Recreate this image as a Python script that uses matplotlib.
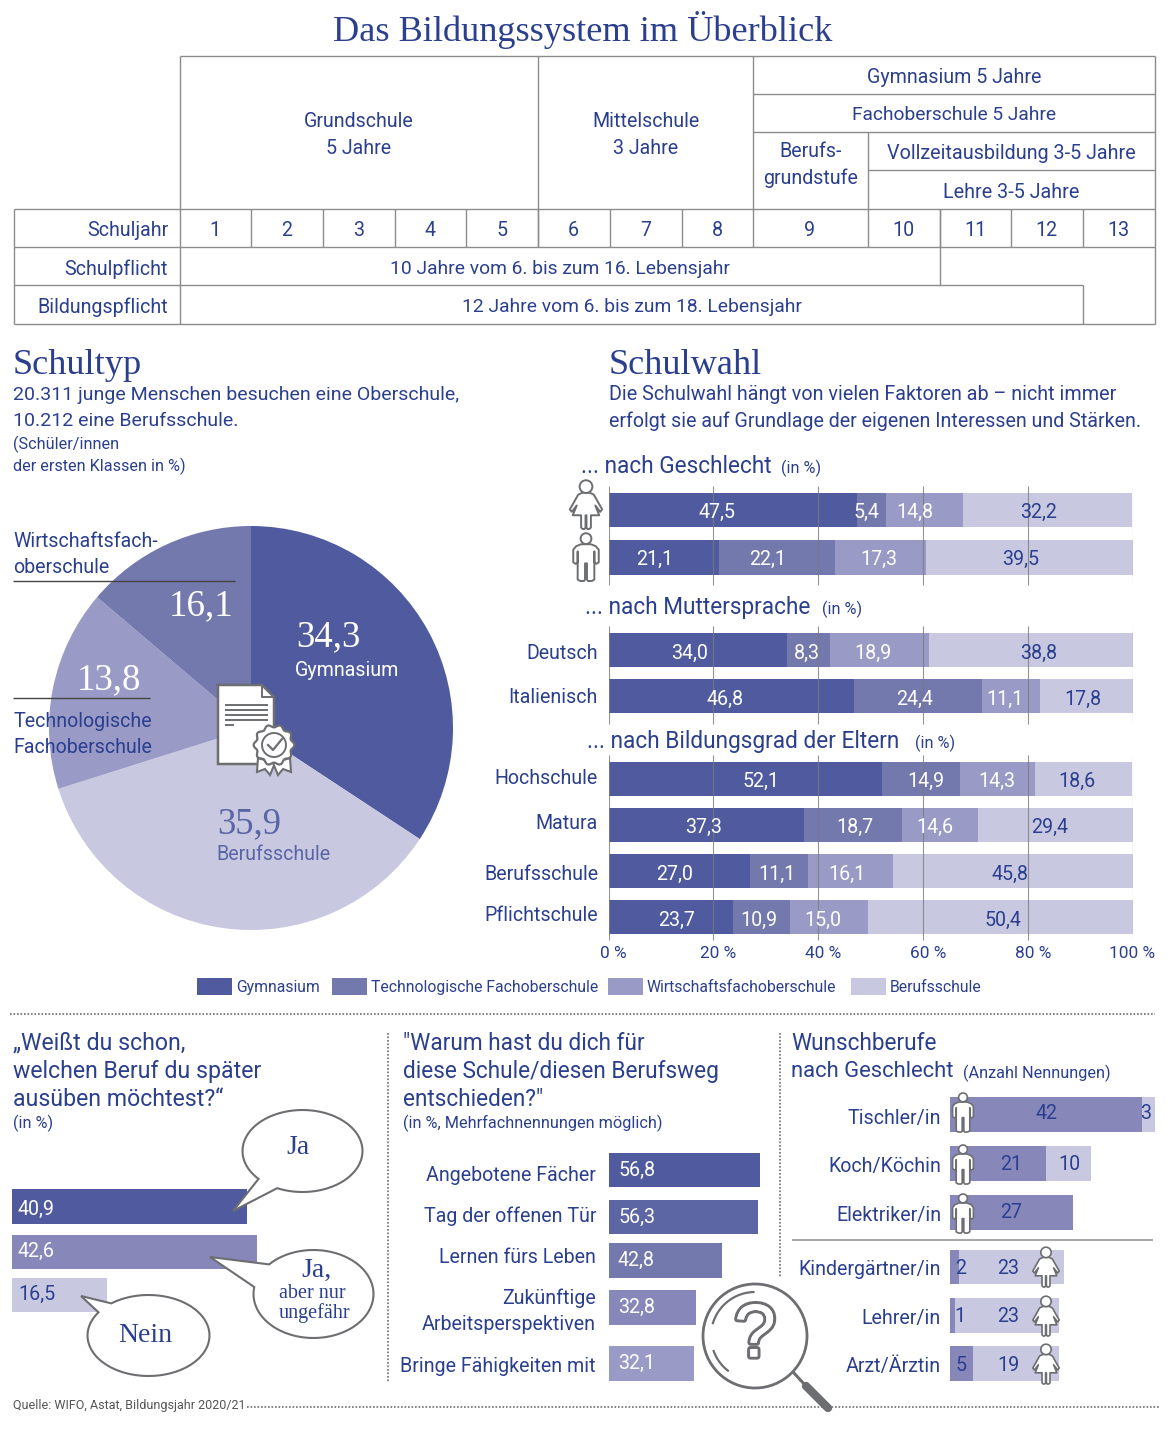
import numpy as np
import matplotlib
matplotlib.use("Agg")
import matplotlib.pyplot as plt
from matplotlib.patches import Circle, Polygon, Rectangle
from matplotlib.transforms import ScaledTranslation
import matplotlib.patheffects as pe

W, H = 1170, 1430
SANS = ["Roboto", "DejaVu Sans"]
SERIF = ["Liberation Serif", "DejaVu Serif"]
NAVY = "#2b3f8f"
GREY = "#6d6e71"
LINE = "#8c8c8c"
C_GYM, C_TECH, C_WIRT, C_BERUF = "#4f5b9e", "#7378ad", "#9a9ac6", "#c8c8e0"
C_MID = "#8787b9"

# ---------------------------------------------------------------------------
# Data
# ---------------------------------------------------------------------------
legend_labels = ["Gymnasium", "Technologische Fachoberschule", "Wirtschaftsfachoberschule", "Berufsschule"]
# wedge sizes as drawn in the picture, clockwise from 12 o'clock
pie_values = [34.3, 35.9, 16.1, 13.8]
pie_texts = ["34,3", "35,9", "13,8", "16,1"]

stack_rows = ["Weiblich", "Männlich", "Deutsch", "Italienisch", "Hochschule", "Matura", "Berufsschule", "Pflichtschule"]
stack_gym = [47.5, 21.1, 34.0, 46.8, 52.1, 37.3, 27.0, 23.7]
stack_tech = [5.4, 22.1, 8.3, 24.4, 14.9, 18.7, 11.1, 10.9]
stack_wirt = [14.8, 17.3, 18.9, 11.1, 14.3, 14.6, 16.1, 15.0]
stack_beruf = [32.2, 39.5, 38.8, 17.8, 18.6, 29.4, 45.8, 50.4]
stack_ticks = [0, 20, 40, 60, 80, 100]

know_values = [40.9, 42.6, 16.5]

why_labels = ["Angebotene Fächer", "Tag der offenen Tür", "Lernen fürs Leben",
              "Zukünftige\nArbeitsperspektiven", "Bringe Fähigkeiten mit"]
why_values = [56.8, 56.3, 42.8, 32.8, 32.1]

job_labels = ["Tischler/in", "Koch/Köchin", "Elektriker/in", "Kindergärtner/in", "Lehrer/in", "Arzt/Ärztin"]
job_male = [42, 21, 27, 2, 1, 5]
job_female = [3, 10, 0, 23, 23, 19]

school_years = list(range(1, 14))

# ---------------------------------------------------------------------------
# Layout (pixels of the finished picture)
# ---------------------------------------------------------------------------
stack_y = [510, 557.5, 650, 696, 779, 825, 871, 917]
stack_label_x = [
    [717, 866, 915, 1039], [655, 768, 879, 1021], [690, 807, 873, 1039], [725, 915, 1005, 1083],
    [761, 926, 997, 1077], [704, 855, 935, 1050], [675, 777, 847, 1010], [677, 759, 823, 1003],
]
stack_label_yoff = [0, 0, 1, 1, 0, 0, 1, 1]
stack_row_label_y = [None, None, 651, 695, 776, 821, 872, 913]
grid_spans = [(486, 585), (626, 724), (755, 940)]

know_y = [1206.5, 1252, 1295]
know_text_y = [1207, 1249, 1292]
why_y = [1170, 1217, 1260.5, 1307.5, 1363.5]
why_label_y = [1173, 1214, 1255, 1309, 1364]
job_y = [1114.5, 1163.5, 1212.5, 1267, 1315.5, 1363.5]
job_label_y = [1116, 1164, 1213, 1267, 1316, 1364]
job_text_x = [(1046, 1146), (1011, 1069), (1011, None), (961, 1008), (960, 1008), (961, 1008)]
job_text_y = [1111, 1162, 1210, 1266, 1314, 1363]

BODY = 14.1
HEAD = 16.3
SMALL = 11.7

fig = plt.figure(figsize=(W / 100, H / 100), dpi=100, facecolor="white")


def px_axes(x0, y0, x1, y1, zorder=1):
    ax = fig.add_axes([x0 / W, 1 - y1 / H, (x1 - x0) / W, (y1 - y0) / H], zorder=zorder)
    ax.patch.set_alpha(0)
    return ax


back = px_axes(0, 0, W, H, zorder=0)
top = px_axes(0, 0, W, H, zorder=5)
back.set_xlim(0.5, W + 0.5)
back.set_ylim(H + 0.7, 0.7)
top.set_xlim(0, W)
top.set_ylim(H, 0)
back.axis("off")
top.axis("off")


def txt(x, y, s, size=BODY, color=NAVY, ha="left", va="center", family=None, **kw):
    off = 2 if family is SERIF else 2.5
    return top.text(x, y + off, s, fontsize=size, color=color, ha=ha, va=va, family=family or SANS, **kw)


def rule(x0, y0, x1, y1, ax=None, color=LINE, lw=1.0, **kw):
    (ax or back).plot([x0, x1], [y0, y1], color=color, lw=lw, solid_capstyle="butt", **kw)


def dotted(x0, y0, x1, y1):
    top.plot([x0, x1], [y0, y1], color=GREY, lw=1.2, ls=(0, (1, 1.1)), zorder=1)


def comma(v):
    return f"{v:.1f}".replace(".", ",")


# ---------------------------------------------------------------------------
# Title and overview table
# ---------------------------------------------------------------------------
txt(583, 28, "Das Bildungssystem im Überblick", size=26.1, ha="center", family=SERIF)

col_x = [180, 251, 323, 395, 466, 538, 610, 682, 753, 868, 940, 1011, 1083, 1155]
for y, x0, x1 in [(57, 180, 1155), (95, 753, 1155), (133, 753, 1155), (171, 868, 1155), (210, 14, 1155),
                  (248, 14, 1155), (286, 14, 1083), (325, 14, 1155)]:
    rule(x0, y, x1, y)
for x, y0, y1 in [(14, 210, 325), (180, 57, 325), (538, 57, 248), (753, 57, 248), (868, 133, 248),
                  (940, 210, 286), (1083, 210, 248), (1083, 286, 325), (1155, 57, 325)]:
    rule(x, y0, x, y1)
for x in col_x[1:8] + col_x[10:12]:
    rule(x, 210, x, 248)

txt(359, 119, "Grundschule", ha="center")
txt(359, 146, "5 Jahre", ha="center")
txt(646, 119, "Mittelschule", ha="center")
txt(646, 146, "3 Jahre", ha="center")
txt(954, 75, "Gymnasium 5 Jahre", ha="center", size=14.1)
txt(954, 113, "Fachoberschule 5 Jahre", ha="center", size=13.8)
txt(811, 149, "Berufs-", ha="center")
txt(811, 176, "grundstufe", ha="center")
txt(1011, 151, "Vollzeitausbildung 3-5 Jahre", ha="center", size=14.2)
txt(1011, 190, "Lehre 3-5 Jahre", ha="center", size=14.2)
txt(168, 228, "Schuljahr", ha="right")
txt(168, 267, "Schulpflicht", ha="right")
txt(168, 305, "Bildungspflicht", ha="right")
for i, year in enumerate(school_years):
    txt((col_x[i] + col_x[i + 1]) / 2 - 0.5, 228, str(year), ha="center")
txt(560, 267, "10 Jahre vom 6. bis zum 16. Lebensjahr", ha="center", size=13.9)
txt(632, 305, "12 Jahre vom 6. bis zum 18. Lebensjahr", ha="center", size=13.9)

# ---------------------------------------------------------------------------
# Schultyp pie
# ---------------------------------------------------------------------------
txt(13, 363, "Schultyp", size=26.1, family=SERIF)
txt(13, 392, "20.311 junge Menschen besuchen eine Oberschule,", size=14.0)
txt(13, 419, "10.212 eine Berufsschule.", size=14.0)
txt(13, 442, "(Schüler/innen", size=SMALL)
txt(13, 464, "der ersten Klassen in %)", size=SMALL)

pie_ax = px_axes(49, 526, 453, 930)
pie_ax.pie(pie_values, colors=[C_GYM, C_BERUF, C_WIRT, C_TECH], startangle=90, counterclock=False,
           radius=1.0, center=(0, 0))
pie_ax.set_xlim(-1, 1)
pie_ax.set_ylim(-1, 1)

txt(328, 635, pie_texts[0], size=26.5, color="white", ha="center", family=SERIF)
txt(347, 668, legend_labels[0], color="white", ha="center")
txt(249, 822, pie_texts[1], size=26.5, color="#5a65a5", ha="center", family=SERIF)
txt(273, 852, legend_labels[3], color="#5a65a5", ha="center")
txt(109, 678, pie_texts[2], size=26.5, color="white", ha="center", family=SERIF)
txt(201, 604, pie_texts[3], size=26.5, color="white", ha="center", family=SERIF)
txt(13, 539, "Wirtschaftsfach-")
txt(13, 565, "oberschule")
rule(13, 581, 235, 581, ax=top, color="#444444")
txt(13, 719, "Technologische")
txt(13, 745, "Fachoberschule")
rule(13, 698, 150, 698, ax=top, color="#444444")

# certificate icon
top.add_patch(Polygon([(218, 685), (262, 685), (274, 697), (274, 764), (218, 764)], closed=True,
                      fc="white", ec=GREY, lw=1.8, joinstyle="miter"))
top.plot([262, 262, 274], [685, 697, 697], color=GREY, lw=1.4)
for y, x1 in [(705, 268), (710, 268), (715, 268), (720, 268), (725, 234)]:
    rule(225, y, x1, y, ax=top, color=GREY, lw=1.4)
top.add_patch(Polygon([(258, 758), (257, 772), (265, 769), (270, 775), (275, 763)], closed=True, fc="white", ec=GREY, lw=1.5))
top.add_patch(Polygon([(290, 758), (291, 772), (283, 769), (278, 775), (273, 763)], closed=True, fc="white", ec=GREY, lw=1.5))
ang = np.linspace(0, 2 * np.pi, 121)
seal_r = 19 + 1.4 * np.cos(10 * ang)
top.add_patch(Polygon(np.c_[274 + seal_r * np.cos(ang), 745 + seal_r * np.sin(ang)], closed=True, fc="white", ec=GREY, lw=1.6))
top.add_patch(Circle((274, 745), 12, fc="white", ec=GREY, lw=1.4))
top.plot([268, 273, 282], [745, 750, 739], color=GREY, lw=1.6)

# ---------------------------------------------------------------------------
# Schulwahl stacked bars
# ---------------------------------------------------------------------------
txt(609, 363, "Schulwahl", size=26.1, family=SERIF)
txt(609, 392, "Die Schulwahl hängt von vielen Faktoren ab – nicht immer", size=14.2)
txt(609, 419, "erfolgt sie auf Grundlage der eigenen Interessen und Stärken.", size=14.15)

txt(581, 464, "... nach Geschlecht", size=HEAD)
txt(781, 466, "(in %)", size=SMALL)
txt(585, 605, "... nach Muttersprache", size=HEAD)
txt(822, 607, "(in %)", size=SMALL)
txt(587, 739, "... nach Bildungsgrad der Eltern", size=HEAD)
txt(915, 741, "(in %)", size=SMALL)

stack_ax = px_axes(608.5, 480, 1132.5, 945)
stack_ax.set_xlim(0, 100)
stack_ax.set_ylim(945, 480)
left = np.zeros(len(stack_rows))
for vals, col in zip([stack_gym, stack_tech, stack_wirt, stack_beruf], [C_GYM, C_TECH, C_WIRT, C_BERUF]):
    stack_ax.barh(stack_y, vals, left=left, height=34.5, color=col, zorder=2)
    left = left + np.array(vals)
for y0, y1 in grid_spans:
    stack_ax.vlines(stack_ticks, y0, y1, color="#7a7a7a", lw=0.8, alpha=0.8, zorder=3)
for s in stack_ax.spines.values():
    s.set_visible(False)
stack_ax.set_yticks([])
stack_ax.set_xticks(stack_ticks, [f"{t} %" for t in stack_ticks], color=NAVY, fontsize=12.4, family=SANS)
stack_ax.tick_params(axis="x", length=0, pad=0.5)
shift = ScaledTranslation(5 / 100, 0, fig.dpi_scale_trans)
for t, lab in zip(stack_ticks, stack_ax.get_xticklabels()):
    if t < 100:
        lab.set_transform(lab.get_transform() + shift)

for r, name in enumerate(stack_rows):
    vals = [stack_gym[r], stack_tech[r], stack_wirt[r], stack_beruf[r]]
    for k, v in enumerate(vals):
        txt(stack_label_x[r][k], stack_y[r] + stack_label_yoff[r] - 0.5, comma(v),
            color="white" if k < 3 else NAVY, ha="center")
    if stack_row_label_y[r] is not None:
        txt(598, stack_row_label_y[r], name, ha="right")

# legend
for x, lab, col in [(197, legend_labels[0], C_GYM), (332, legend_labels[1], C_TECH),
                    (608, legend_labels[2], C_WIRT), (851, legend_labels[3], C_BERUF)]:
    top.add_patch(Rectangle((x, 978), 35, 17, fc=col, ec="none"))
    txt(x + 39, 985, lab, size=11.3)


# ---------------------------------------------------------------------------
# People icons
# ---------------------------------------------------------------------------
MALE = [(-.10, .25), (.10, .25), (.20, .29), (.26, .36), (.26, .62), (.21, .65), (.17, .62), (.17, .40), (.17, .97),
        (.12, 1.0), (.04, 1.0), (.02, .97), (.02, .64), (-.02, .64), (-.02, .97), (-.04, 1.0), (-.12, 1.0),
        (-.17, .97), (-.17, .40), (-.17, .62), (-.21, .65), (-.26, .62), (-.26, .36), (-.20, .29)]
FEMALE = [(-.08, .26), (.08, .26), (.16, .30), (.25, .46), (.33, .60), (.29, .65), (.19, .52), (.27, .72), (.10, .72),
          (.10, .97), (.07, 1.0), (.03, 1.0), (.01, .97), (.01, .72), (-.01, .72), (-.01, .97), (-.03, 1.0),
          (-.07, 1.0), (-.10, .97), (-.10, .72), (-.27, .72), (-.19, .52), (-.29, .65), (-.33, .60), (-.25, .46), (-.16, .30)]


def person(cx, y0, y1, female=False, lw=1.4):
    h = y1 - y0
    pts = [(cx + px * h, y0 + py * h) for px, py in (FEMALE if female else MALE)]
    top.add_patch(Polygon(pts, closed=True, fc="white", ec=GREY, lw=lw, joinstyle="round", zorder=6))
    rx = .13 if female else .11
    top.add_patch(Circle((cx, y0 + .135 * h), rx * h, fc="white", ec=GREY, lw=lw, zorder=6))


person(586, 480, 529, female=True)
person(586, 532, 581)

# ---------------------------------------------------------------------------
# Bottom block: dividers
# ---------------------------------------------------------------------------
dotted(10, 1014, 1155, 1014)
dotted(388, 1033, 388, 1382)
dotted(780, 1033, 780, 1277)
dotted(247, 1407, 1160, 1407)
txt(13, 1403, "Quelle: WIFO, Astat, Bildungsjahr 2020/21", size=9.0, color="#555555")

# ---------------------------------------------------------------------------
# Weißt du schon
# ---------------------------------------------------------------------------
txt(13, 1041, "„Weißt du schon,", size=16.7)
txt(13, 1069, "welchen Beruf du später", size=16.7)
txt(13, 1097, "ausüben möchtest?“", size=16.7)
txt(13, 1121, "(in %)", size=SMALL)

know_ax = px_axes(12, 1180, 272, 1320)
know_ax.set_xlim(0, 260 / 5.74)
know_ax.set_ylim(1320, 1180)
know_ax.axis("off")
know_ax.barh(know_y, know_values, height=34.5, color=[C_GYM, C_MID, C_BERUF])
for y, v, col in zip(know_text_y, know_values, ["white", "white", NAVY]):
    txt(18, y - 0.5, comma(v), color=col)


def bubble(cx, cy, rx, ry, p0, tip, p1, lines):
    a0 = np.arctan2((p0[1] - cy) / ry, (p0[0] - cx) / rx)
    a1 = np.arctan2((p1[1] - cy) / ry, (p1[0] - cx) / rx)
    # go the long way round from p1 back to p0
    d = (a0 - a1) % (2 * np.pi)
    if d < np.pi:
        d = d - 2 * np.pi
    t = np.linspace(a1, a1 + d, 80)
    pts = np.c_[cx + rx * np.cos(t), cy + ry * np.sin(t)].tolist() + [list(tip)]
    top.add_patch(Polygon(pts, closed=True, fc="white", ec=GREY, lw=1.5, joinstyle="miter", zorder=4))
    for x, y, s, size in lines:
        txt(x, y, s, size=size, ha="center", family=SERIF, zorder=5)


bubble(302.5, 1151, 60, 41, (260, 1178), (233, 1211), (278, 1187), [(298, 1146, "Ja", 20)])
bubble(313.5, 1294, 60, 44, (270, 1265), (210, 1257), (254, 1287),
       [(316, 1268, "Ja,", 20), (312, 1291, "aber nur", 14.5), (314, 1311, "ungefähr", 14.5)])
bubble(148.5, 1335.5, 61, 40.5, (112, 1304), (81, 1296), (100, 1313), [(145, 1334, "Nein", 20)])

# ---------------------------------------------------------------------------
# Warum hast du dich
# ---------------------------------------------------------------------------
txt(403, 1041, "\"Warum hast du dich für", size=HEAD)
txt(403, 1069, "diese Schule/diesen Berufsweg", size=HEAD)
txt(403, 1097, "entschieden?\"", size=HEAD)
txt(403, 1121, "(in %, Mehrfachnennungen möglich)", size=SMALL)

why_ax = px_axes(609, 1145, 769, 1390)
why_ax.set_xlim(0, 160 / 2.65)
why_ax.set_ylim(1390, 1145)
why_ax.axis("off")
why_ax.barh(why_y, why_values, height=34.5, color=[C_GYM, "#5d66a4", C_TECH, C_MID, C_WIRT])
for y, v, ly, name in zip(why_y, why_values, why_label_y, why_labels):
    txt(618, y - 2.5, comma(v), color="white")
    if "\n" in name:
        a, b = name.split("\n")
        txt(596, ly - 13, a, ha="right")
        txt(596, ly + 13, b, ha="right")
    else:
        txt(596, ly, name, ha="right")

# magnifier
top.plot([793, 806], [1372, 1386], color=GREY, lw=2.2, solid_capstyle="round", zorder=3)
top.plot([806, 828], [1386, 1408], color=GREY, lw=6, solid_capstyle="round", zorder=3)
top.add_patch(Circle((755, 1336), 52, fc="white", ec=GREY, lw=2.0, zorder=3))
for a0, a1 in [(197, 268), (128, 160)]:
    t = np.radians(np.linspace(a0, a1, 30))
    top.plot(755 + 44 * np.cos(t), 1336 + 44 * np.sin(t), color=GREY, lw=1.6, zorder=4)
top.text(755, 1337, "?", fontsize=54, color="white", ha="center", va="center", family=["Liberation Sans"], zorder=4,
         path_effects=[pe.withStroke(linewidth=4.5, foreground=GREY), pe.Normal()])

# ---------------------------------------------------------------------------
# Wunschberufe
# ---------------------------------------------------------------------------
txt(791, 1041, "Wunschberufe", size=HEAD)
txt(791, 1069, "nach Geschlecht", size=15.8)
txt(963, 1071, "(Anzahl Nennungen)", size=SMALL)

job_ax = px_axes(950, 1090, 1160, 1390)
job_ax.set_xlim(0, 210 / 4.56)
job_ax.set_ylim(1390, 1090)
job_ax.axis("off")
job_ax.barh(job_y, job_male, height=34.5, color=C_MID)
job_ax.barh(job_y, job_female, left=job_male, height=34.5, color=C_BERUF)
rule(792, 1240, 1153, 1240, ax=top, color="#aaaaaa", lw=1.5)
for i, name in enumerate(job_labels):
    txt(941, job_label_y[i], name, ha="right")
    xm, xf = job_text_x[i]
    txt(xm, job_text_y[i], str(job_male[i]), ha="center")
    if xf is not None:
        txt(xf, job_text_y[i], str(job_female[i]), ha="center")
for y0 in (1092, 1144, 1193):
    person(963, y0, y0 + 40, lw=1.2)
for y0 in (1247, 1296, 1344):
    person(1046, y0, y0 + 40, female=True, lw=1.2)

fig.savefig("out.png", dpi=100)
